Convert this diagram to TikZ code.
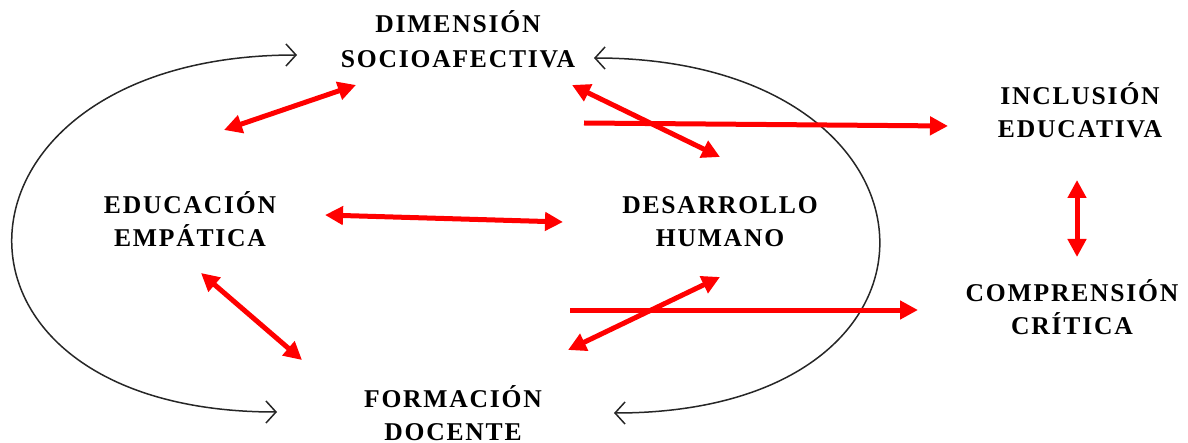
\documentclass[tikz,border=0pt]{standalone}
\usepackage{fontspec}
\usepackage{xcolor}
\usetikzlibrary{arrows.meta}
\newfontfamily\lblfont{Liberation Serif}[LetterSpace=7]

\begin{document}
\begin{tikzpicture}[x=0.5pt,y=-0.5pt,
    lbl/.style={align=center,font=\lblfont\bfseries\fontsize{12.8}{16.5}\selectfont,inner sep=0pt},
    redarrow/.style={draw=red,line width=2.5pt,{Triangle[length=9pt,width=9pt]}-{Triangle[length=9pt,width=9pt]}},
    redone/.style={draw=red,line width=2.5pt,-{Triangle[length=9pt,width=9pt]}},
    loopline/.style={draw=black!85,line width=0.75pt,{Straight Barb[length=5pt,width=11pt]}-{Straight Barb[length=5pt,width=11pt]}}]
                \useasboundingbox (0,0) rectangle (1188,443);

                \node[lbl,font=\lblfont\bfseries\fontsize{12.8}{17.5}\selectfont] (dim) at (458,39) {DIMENSIÓN\\SOCIOAFECTIVA};
                \node[lbl] (incl) at (1080,110) {INCLUSIÓN\\EDUCATIVA};
                \node[lbl] (edu) at (190,219) {EDUCACIÓN\\EMPÁTICA};
                \node[lbl] (des) at (720,222) {DESARROLLO\\HUMANO};
                \node[lbl] (comp) at (1072,307) {COMPRENSIÓN\\CRÍTICA};
                \node[lbl] (form) at (453,413) {FORMACIÓN\\DOCENTE};

                \coordinate (ltop) at (297,55);
                \coordinate (lbot) at (277,412);
                \coordinate (rtop) at (594,58);
                \coordinate (rbot) at (614,413);

                \draw[loopline] (ltop) to[out=180,in=180,looseness=2.62] (lbot);
                \draw[loopline] (rtop) to[out=0,in=0,looseness=2.64] (rbot);

                \draw[redarrow] (224,130) -- (356,85);
                \draw[redarrow] (572,85) -- (720,157);
                \draw[redone] (584,123) -- (948,126);
                \draw[redarrow] (325,215) -- (563,222);
                \draw[redarrow] (1077,180) -- (1077,257);
                \draw[redarrow] (201,273) -- (302,360);
                \draw[redarrow] (568,350) -- (720,277);
                \draw[redone] (570,310) -- (918,310);
            \end{tikzpicture}
\end{document}
